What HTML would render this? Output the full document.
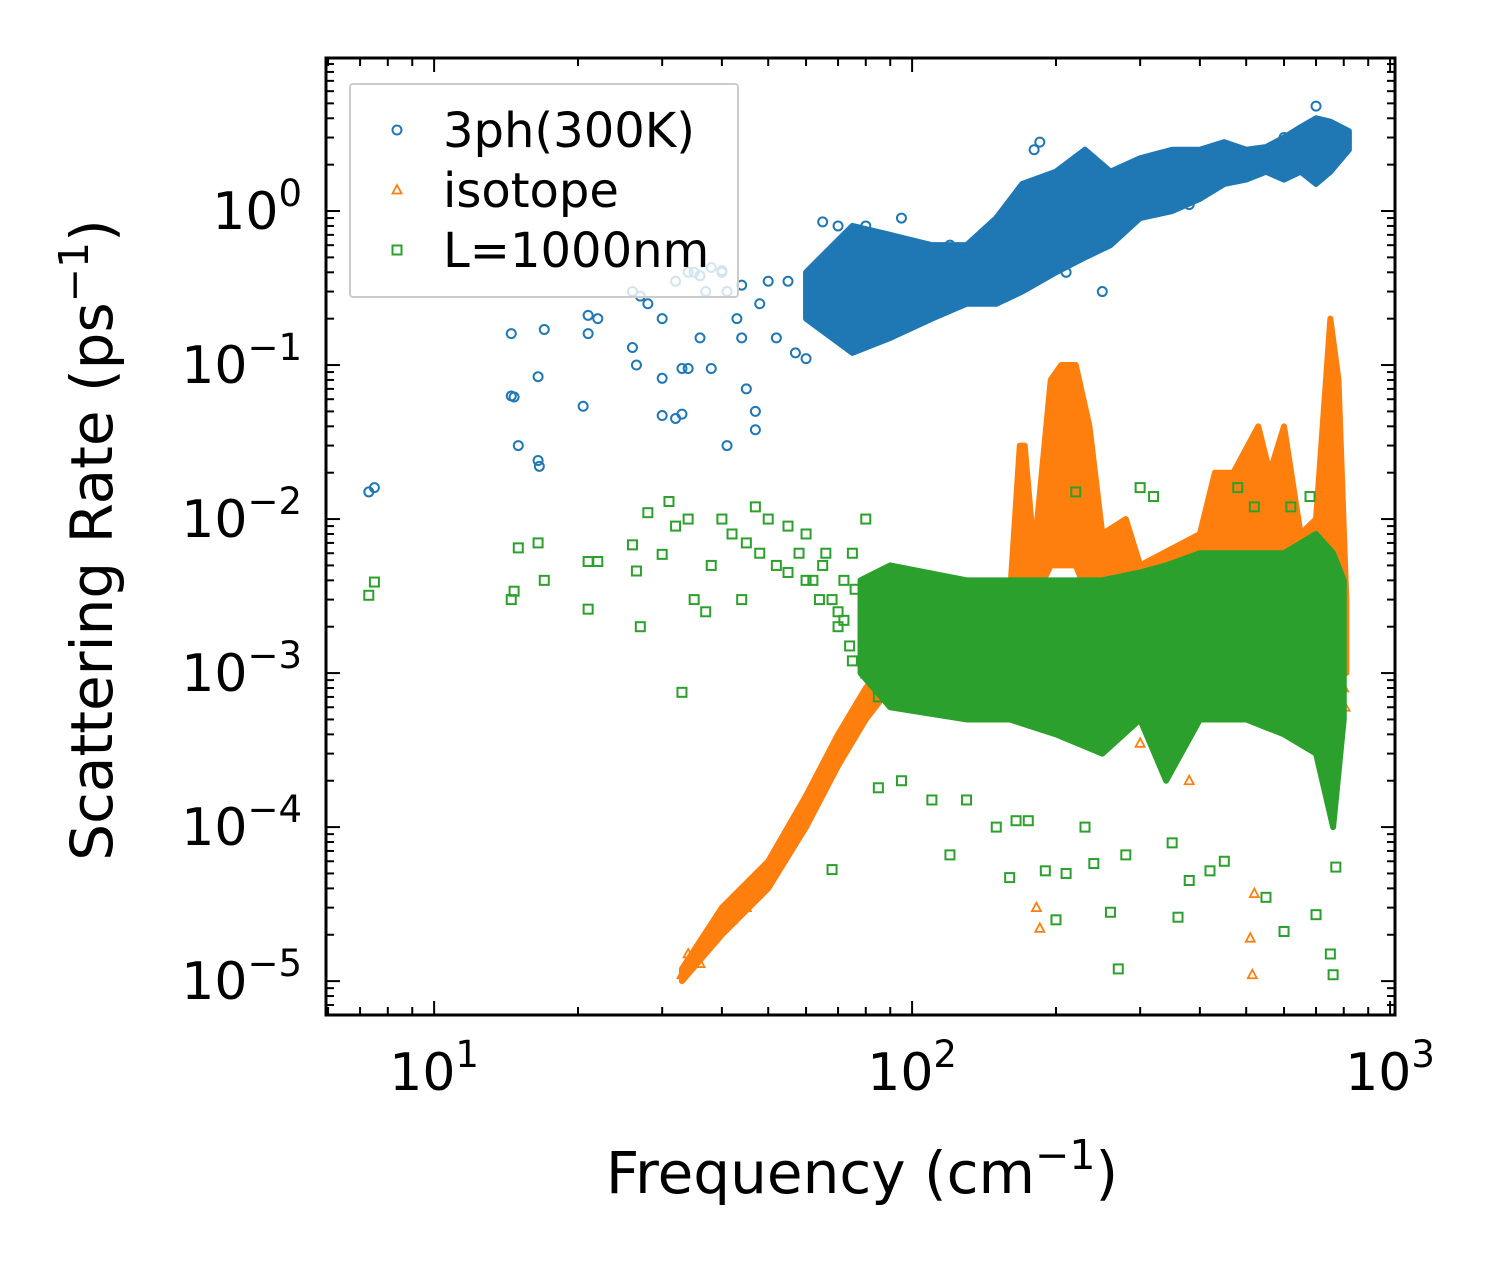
<!DOCTYPE html>
<html><head><meta charset="utf-8"><style>
body{margin:0;background:#fff}
svg{display:block;font-family:"DejaVu Sans","Liberation Sans",sans-serif}
</style></head><body>
<svg id="chart" width="1501" height="1265"></svg>
<script>
// ---- data ----
const blueBandX=[60,75,90,110,130,150,170,200,230,260,300,350,400,450,500,550,600,650,700,750,820];
const blueBandLo=[0.2,0.12,0.15,0.2,0.25,0.25,0.3,0.4,0.5,0.6,0.9,1.0,1.2,1.5,1.6,1.8,1.6,1.8,1.5,1.8,2.5];
const blueBandHi=[0.4,0.8,0.7,0.6,0.6,0.9,1.5,1.8,2.5,1.8,2.2,2.5,2.5,2.8,2.5,2.6,3.0,3.5,4.0,3.8,3.3];
const bluePtsX=[7.3,7.5,14.5,14.7,15,16.5,16.6,14.5,17,16.5,20.5,21,21,22,26,26,26.5,27,30,30,30,32,33,33,34,35,36,37,38,40,41,41,43,44,45,47,47,48,50,52,55,57,60,65,70,80,95,120,180,185,190,210,250,330,380,600,700,40,44,36,28,32,34,38];
const bluePtsY=[0.015,0.016,0.063,0.062,0.03,0.024,0.022,0.16,0.17,0.084,0.054,0.16,0.21,0.2,0.3,0.13,0.1,0.28,0.2,0.082,0.047,0.045,0.095,0.048,0.095,0.4,0.15,0.3,0.095,0.41,0.3,0.03,0.2,0.15,0.07,0.05,0.038,0.25,0.35,0.15,0.35,0.12,0.11,0.85,0.8,0.8,0.9,0.6,2.5,2.8,1.5,0.4,0.3,1.8,1.1,3.0,4.8,0.4,0.33,0.38,0.25,0.35,0.4,0.43];
const orangeBandX=[33,40,50,60,70,80,90,100,160,168,172,180,195,205,220,235,250,280,300,400,430,470,530,560,600,650,700,750,780,810];
const orangeBandLo=[1e-5,2e-5,4e-5,1e-4,2.5e-4,5e-4,8e-4,1e-3,1e-3,2e-3,2e-3,3e-3,5e-3,5e-3,5e-3,3e-3,2e-3,2e-3,2e-3,2e-3,3e-3,3e-3,3e-3,3e-3,3e-3,3e-3,3e-3,5e-3,3e-3,1e-3];
const orangeBandHi=[1.2e-5,3e-5,6e-5,1.6e-4,4e-4,8e-4,1.2e-3,2e-3,3e-3,0.03,0.03,0.006,0.08,0.1,0.1,0.04,0.008,0.01,0.005,0.008,0.02,0.02,0.04,0.02,0.04,0.008,0.01,0.2,0.08,0.003];
const orangePtsX=[33,34,36,38,42,45,182,185,300,380,510,515,520,800,805,790];
const orangePtsY=[1.1e-5,1.5e-5,1.3e-5,2e-5,2.5e-5,3e-5,3e-5,2.2e-5,3.5e-4,2e-4,1.9e-5,1.1e-5,3.7e-5,8e-4,6e-4,1.2e-3];
const greenBandX=[78,90,130,160,200,250,300,340,400,500,600,700,760,800];
const greenBandLo=[1e-3,6e-4,5e-4,5e-4,4e-4,3e-4,5e-4,2e-4,5e-4,5e-4,4e-4,3e-4,1e-4,5e-4];
const greenBandHi=[4e-3,5e-3,4e-3,4e-3,4e-3,4e-3,4.5e-3,5e-3,6e-3,6e-3,6e-3,8e-3,6e-3,4e-3];
const greenPtsX=[7.3,7.5,14.5,14.7,15,16.5,17,21,21,22,26,26.5,27,28,30,31,32,33,34,35,37,38,40,42,44,47,50,55,60,68,75,80,85,95,110,120,130,150,160,165,175,190,200,210,220,230,240,260,270,280,300,320,350,360,380,420,450,480,520,550,600,620,680,700,750,760,770,45,48,52,55,58,62,65,68,70,72,74,76,60,64,70,75,80,85,66,72];
const greenPtsY=[3.2e-3,3.9e-3,3e-3,3.4e-3,6.5e-3,7e-3,4e-3,2.6e-3,5.3e-3,5.3e-3,6.8e-3,4.6e-3,2e-3,1.1e-2,5.9e-3,1.3e-2,9e-3,7.5e-4,1e-2,3e-3,2.5e-3,5e-3,1e-2,8e-3,3e-3,1.2e-2,1e-2,9e-3,8e-3,5.3e-5,6e-3,1e-2,1.8e-4,2e-4,1.5e-4,6.6e-5,1.5e-4,1e-4,4.7e-5,1.1e-4,1.1e-4,5.2e-5,2.5e-5,5e-5,1.5e-2,1e-4,5.8e-5,2.8e-5,1.2e-5,6.6e-5,1.6e-2,1.4e-2,7.9e-5,2.6e-5,4.5e-5,5.2e-5,6e-5,1.6e-2,1.2e-2,3.5e-5,2.1e-5,1.2e-2,1.4e-2,2.7e-5,1.5e-5,1.1e-5,5.5e-5,7e-3,6e-3,5e-3,4.5e-3,6e-3,4e-3,5e-3,3e-3,2.5e-3,4e-3,1.5e-3,3.5e-3,4e-3,3e-3,2e-3,1.2e-3,1e-3,7e-4,6e-3,2.2e-3];
const xTickExp=[1,2,3];
const yTickExp=[0,-1,-2,-3,-4,-5];
// ---- axes ----
const L=326,R=1395,T=58,B=1015;
const xmin=Math.log10(5.94),xmax=Math.log10(1024),ymin=-5.22,ymax=0.9935;
const sx=v=>L+(Math.log10(v)-xmin)/(xmax-xmin)*(R-L);
const sy=v=>B-(Math.log10(v)-ymin)/(ymax-ymin)*(B-T);
const NS="http://www.w3.org/2000/svg";
const svg=document.getElementById('chart');
function mk(tag,attrs,parent){const e=document.createElementNS(NS,tag);for(const k in attrs)e.setAttribute(k,attrs[k]);(parent||svg).appendChild(e);return e;}
const clip=mk('clipPath',{id:'pc'});mk('rect',{x:L,y:T,width:R-L,height:B-T},clip);
const plot=mk('g',{'clip-path':'url(#pc)'});


const COL={b:'#1f77b4',o:'#ff7f0e',g:'#2ca02c'};
function band(xs,lo,hi,c,name){let p=xs.map((x,i)=>sx(x)+','+sy(hi[i]));for(let i=xs.length-1;i>=0;i--)p.push(sx(xs[i])+','+sy(lo[i]));
 const e=mk('polygon',{points:p.join(' '),fill:c,stroke:c,'stroke-width':6,'stroke-linejoin':'round'},plot);
 
 }
function marker(type,x,y,c,parent,name){let e;
 if(type==='c')e=mk('circle',{cx:x,cy:y,r:4.5,fill:'none',stroke:c,'stroke-width':2},parent);
 else if(type==='t')e=mk('polygon',{points:`${x},${y-5} ${x-4.5},${y+3.5} ${x+4.5},${y+3.5}`,fill:'none',stroke:c,'stroke-width':1.8},parent);
 else e=mk('rect',{x:x-4.5,y:y-4.5,width:9,height:9,fill:'none',stroke:c,'stroke-width':2},parent);
 
 }
band(blueBandX,blueBandLo,blueBandHi,COL.b,'3ph-dense-band');
bluePtsX.forEach((x,i)=>marker('c',sx(x),sy(bluePtsY[i]),COL.b,plot,'3ph-point'));
band(orangeBandX,orangeBandLo,orangeBandHi,COL.o,'isotope-dense-band');
orangePtsX.forEach((x,i)=>marker('t',sx(x),sy(orangePtsY[i]),COL.o,plot,'isotope-point'));
band(greenBandX,greenBandLo,greenBandHi,COL.g,'boundary-dense-band');
greenPtsX.forEach((x,i)=>marker('s',sx(x),sy(greenPtsY[i]),COL.g,plot,'boundary-point'));
// frame & ticks
const fr=mk('rect',{x:L,y:T,width:R-L,height:B-T,fill:'none',stroke:'#000','stroke-width':3});


const tk=mk('g',{stroke:'#000','stroke-width':2});
for(let d=0;d<=3;d++)for(let m=1;m<10;m++){const v=m*Math.pow(10,d);const x=sx(v);if(x<L||x>R)continue;const len=m===1?14:8;
 mk('line',{x1:x,y1:B,x2:x,y2:B-len},tk);mk('line',{x1:x,y1:T,x2:x,y2:T+len},tk);}
for(let d=-6;d<=0;d++)for(let m=1;m<10;m++){const v=m*Math.pow(10,d);const y=sy(v);if(y<T||y>B)continue;const len=m===1?14:8;
 mk('line',{x1:L,y1:y,x2:L+len,y2:y},tk);mk('line',{x1:R,y1:y,x2:R-len,y2:y},tk);}
xTickExp.forEach(e=>{const t=mk('text',{x:sx(Math.pow(10,e)),y:1090,'font-size':52,'text-anchor':'middle'});
 
 
 t.innerHTML=`10<tspan dy="-23" font-size="37">${e}</tspan>`;});
yTickExp.forEach(e=>{const t=mk('text',{x:302,y:sy(Math.pow(10,e))+18,'font-size':52,'text-anchor':'end'});
 
 
 t.innerHTML=`10<tspan dy="-23" font-size="37">${e<0?'\u2212'+(-e):e}</tspan>`;});
const xt=mk('text',{x:862,y:1193,'font-size':58,'text-anchor':'middle'});


xt.innerHTML='Frequency (cm<tspan dy="-24" font-size="41">\u22121</tspan><tspan dy="24">)</tspan>';
const yt=mk('text',{x:0,y:0,'font-size':58,'text-anchor':'middle',transform:'translate(112,540) rotate(-90)'});


yt.innerHTML='Scattering Rate (ps<tspan dy="-24" font-size="41">\u22121</tspan><tspan dy="24">)</tspan>';
// legend
const lg=mk('g',{});


mk('rect',{x:350,y:84,width:388,height:213,fill:'#fff','fill-opacity':0.8,stroke:'#ccc','stroke-width':2,rx:3},lg);
const legendLabels=['3ph(300K)','isotope','L=1000nm'];
const legendTypes=['c','t','s'];
const legendCols=[COL.b,COL.o,COL.g];
legendLabels.forEach((s,i)=>{const y=130+i*60;
 marker(legendTypes[i],397,y,legendCols[i],lg,'legend-marker');
 const t=mk('text',{x:443,y:y+17,'font-size':48},lg);
 
 
 t.textContent=s;});
</script>
</body></html>
